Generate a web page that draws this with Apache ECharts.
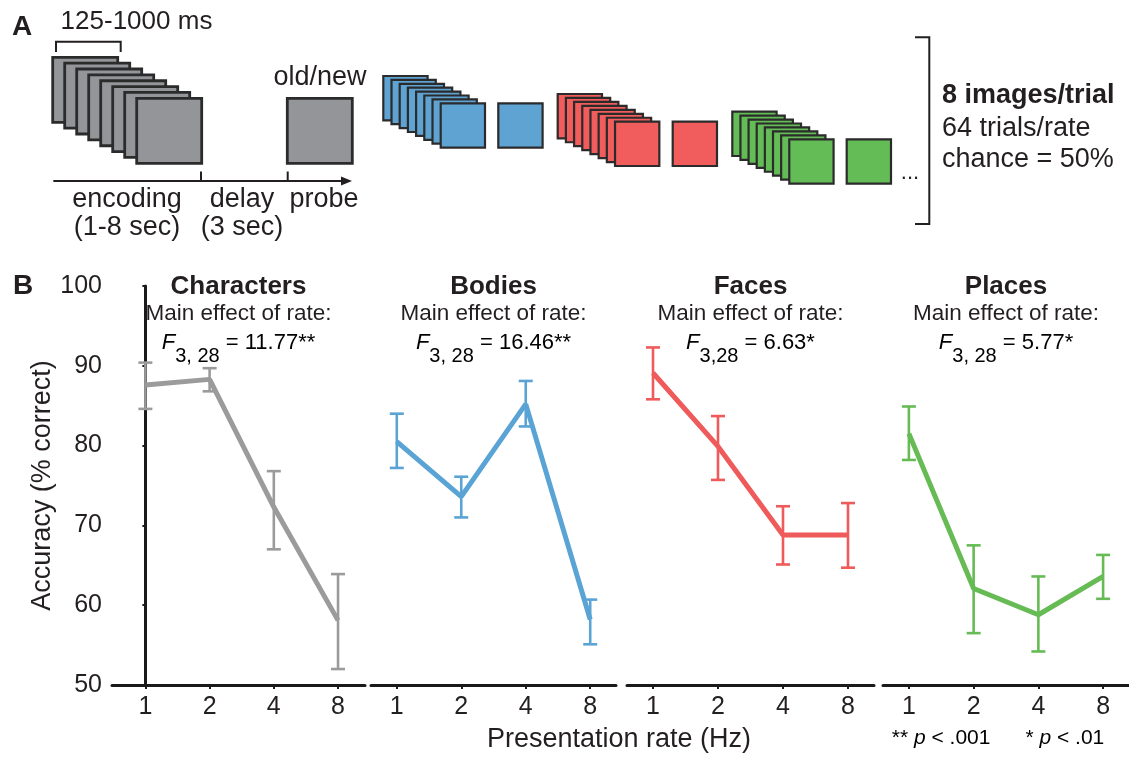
<!DOCTYPE html>
<html><head><meta charset="utf-8">
<script src="https://cdn.jsdelivr.net/npm/echarts@6/dist/echarts.min.js"></script>
<style>html,body{margin:0;padding:0;background:#fff}#c{width:1129px;height:759px}</style>
</head><body><div id="c"></div>
<script>
// ---------- data ----------
const rates = ['1', '2', '4', '8'];
const categories = ['Characters', 'Bodies', 'Faces', 'Places'];
const yTicks = [50, 60, 70, 80, 90, 100];
const fStats = ['11.77**', '16.46**', '6.63*', '5.77*'];
const fDf = ['3, 28', '3, 28', '3,28', '3, 28'];

const charactersMean = [87.6, 88.3, 72.3, 58.1];
const charactersLow  = [84.6, 86.8, 67.0, 52.0];
const charactersHigh = [90.4, 89.7, 76.8, 63.9];

const bodiesMean = [80.5, 73.6, 85.2, 58.2];
const bodiesLow  = [77.2, 71.0, 82.4, 55.1];
const bodiesHigh = [84.0, 76.1, 88.1, 60.7];

const facesMean = [89.1, 79.9, 68.8, 68.8];
const facesLow  = [85.8, 75.7, 65.1, 64.7];
const facesHigh = [92.3, 83.7, 72.4, 72.8];

const placesMean = [81.5, 62.1, 58.8, 63.6];
const placesLow  = [78.2, 56.5, 54.2, 60.8];
const placesHigh = [84.9, 67.5, 63.6, 66.3];

// ---------- layout / style ----------
const FONT = '"Liberation Sans", Arial, Helvetica, sans-serif';
const TXT = '#231f20';
const lineColors = ['#9b9b9b', '#5aa3d5', '#ef5a5a', '#66bb55'];
const squareFills = ['#939598', '#5fa3d3', '#f15d5c', '#64bc56'];
const means = [charactersMean, bodiesMean, facesMean, placesMean];
const lows = [charactersLow, bodiesLow, facesLow, placesLow];
const highs = [charactersHigh, bodiesHigh, facesHigh, placesHigh];

const grids = [
  {left: 112, width: 253, min: -0.52, max: 3.42},
  {left: 371, width: 245, min: -0.4, max: 3.4},
  {left: 627, width: 247, min: -0.4, max: 3.4},
  {left: 883, width: 246, min: -0.4, max: 3.4}
];
const GTOP = 286, GH = 399;

const chart = echarts.init(document.getElementById('c'), null, {renderer: 'canvas'});

function errRender(color) {
  return function (params, api) {
    const x = api.value(0), lo = api.value(1), hi = api.value(2);
    const t = api.coord([x, hi]), b = api.coord([x, lo]);
    const w = 7;
    const st = {stroke: color, lineWidth: 2.6};
    return {type: 'group', children: [
      {type: 'line', shape: {x1: t[0], y1: t[1], x2: b[0], y2: b[1]}, style: st},
      {type: 'line', shape: {x1: t[0] - w, y1: t[1], x2: t[0] + w, y2: t[1]}, style: st},
      {type: 'line', shape: {x1: b[0] - w, y1: b[1], x2: b[0] + w, y2: b[1]}, style: st}
    ]};
  };
}

const grid = grids.map(g => ({left: g.left, width: g.width, top: GTOP, height: GH}));
const xAxis = grids.map((g, i) => ({
  type: 'value', gridIndex: i, min: g.min, max: g.max,
  splitLine: {show: false},
  axisLine: {show: true, onZero: false, lineStyle: {color: '#1a1a1a', width: 3}},
  axisTick: {show: true, customValues: [0, 1, 2, 3], length: 4, lineStyle: {color: '#1a1a1a', width: 2}},
  axisLabel: {show: true, customValues: [0, 1, 2, 3], formatter: v => rates[Math.round(v)],
    fontSize: 25, color: TXT, fontFamily: FONT, margin: 10}
}));
const yAxis = grids.map((g, i) => ({
  type: 'value', gridIndex: i, min: yTicks[0], max: yTicks[yTicks.length - 1], interval: 10,
  show: i === 0,
  splitLine: {show: false},
  axisLine: {show: true, lineStyle: {color: '#1a1a1a', width: 3}},
  axisTick: {show: true, length: 3, lineStyle: {color: '#1a1a1a', width: 2}},
  axisLabel: {fontSize: 25, color: TXT, fontFamily: FONT, margin: 10},
  name: i === 0 ? 'Accuracy (% correct)' : '',
  nameLocation: 'middle', nameGap: 56,
  nameTextStyle: {fontSize: 27, color: TXT, fontFamily: FONT}
}));

const series = [];
categories.forEach((c, i) => {
  series.push({
    type: 'custom', name: c + ' error', xAxisIndex: i, yAxisIndex: i,
    renderItem: errRender(lineColors[i]),
    encode: {x: 0, y: [1, 2]},
    data: lows[i].map((l, k) => [k, l, highs[i][k]]),
    z: 2
  });
  series.push({
    type: 'line', name: c, xAxisIndex: i, yAxisIndex: i,
    data: means[i].map((v, k) => [k, v]),
    symbol: 'none', lineStyle: {color: lineColors[i], width: 5}, z: 3
  });
});

// ---------- graphics (titles, panel A schematic) ----------
const graphic = [];
function txt(x, y, text, size, opts) {
  graphic.push({type: 'text', x: x, y: y, silent: true, style: Object.assign({
    text: text, fill: TXT, font: (opts && opts.bold ? 'bold ' : '') + size + 'px ' + FONT,
    textAlign: 'center', textVerticalAlign: 'middle'}, opts && opts.style)});
}
// panel titles
grids.forEach((g, i) => {
  const cx = g.left + g.width / 2;
  txt(cx, 287, categories[i], 26, {bold: true});
  txt(cx, 314, 'Main effect of rate:', 22.5);
  graphic.push({type: 'text', x: cx, y: 332, silent: true, style: {
    text: '{i|F}{s|' + fDf[i] + '}{n| = ' + fStats[i] + '}',
    textAlign: 'center', textVerticalAlign: 'top',
    rich: {
      i: {fontSize: 22, fontStyle: 'italic', fontFamily: FONT, color: TXT, verticalAlign: 'top', lineHeight: 24},
      n: {fontSize: 22, fontFamily: FONT, color: TXT, verticalAlign: 'top', lineHeight: 24},
      s: {fontSize: 20, fontFamily: FONT, color: TXT, verticalAlign: 'bottom', lineHeight: 34}
    }}});
});
// panel labels
txt(22, 27, 'A', 28, {bold: true});
txt(23, 286, 'B', 28, {bold: true});
// x axis title and footnote
txt(619, 740, 'Presentation rate (Hz)', 27);
graphic.push({type: 'text', x: 998, y: 738, silent: true, style: {
  text: '{n|** }{i|p}{n| < .001      * }{i|p}{n| < .01}', textAlign: 'center', textVerticalAlign: 'middle',
  rich: {n: {fontSize: 21, fontFamily: FONT, color: TXT}, i: {fontSize: 21, fontStyle: 'italic', fontFamily: FONT, color: TXT}}
}});

// schematic squares
function stack(x0, y0, dx, dy, size, fill, lw) {
  for (let k = 0; k < 8; k++) {
    graphic.push({type: 'rect', silent: true, shape: {x: x0 + dx * k, y: y0 + dy * k, width: size, height: size},
      style: {fill: fill, stroke: '#2b2b2b', lineWidth: lw}});
  }
}
function square(x, y, size, fill, lw) {
  graphic.push({type: 'rect', silent: true, shape: {x: x, y: y, width: size, height: size},
    style: {fill: fill, stroke: '#2b2b2b', lineWidth: lw}});
}
stack(52.7, 57.3, 12, 5.86, 65, squareFills[0], 2.8);
square(287.3, 98.3, 65, squareFills[0], 2.8);
stack(383.3, 76, 8.2, 3.9, 44.3, squareFills[1], 2.2);
square(498.3, 103.3, 44.3, squareFills[1], 2.2);
stack(557.7, 94, 8.19, 3.96, 44.3, squareFills[2], 2.2);
square(672.7, 121.7, 44.3, squareFills[2], 2.2);
stack(732.3, 111.7, 8.14, 3.94, 44.3, squareFills[3], 2.2);
square(846.7, 139.3, 44.3, squareFills[3], 2.2);

const ln = {stroke: '#231f20', lineWidth: 2};
// bracket over encoding frame
graphic.push({type: 'polyline', silent: true, shape: {points: [[56, 52], [56, 41.7], [120.7, 41.7], [120.7, 52]]}, style: Object.assign({fill: null}, ln)});
// timeline
graphic.push({type: 'line', silent: true, shape: {x1: 53.3, y1: 181, x2: 346, y2: 181}, style: ln});
graphic.push({type: 'polygon', silent: true, shape: {points: [[352, 181], [341, 176.5], [341, 185.5]]}, style: {fill: '#231f20'}});
graphic.push({type: 'line', silent: true, shape: {x1: 201, y1: 171.5, x2: 201, y2: 181}, style: ln});
graphic.push({type: 'line', silent: true, shape: {x1: 287.7, y1: 171.5, x2: 287.7, y2: 181}, style: ln});
// right bracket
graphic.push({type: 'polyline', silent: true, shape: {points: [[915, 37.3], [929.3, 37.3], [929.3, 224], [915, 224]]}, style: Object.assign({fill: null}, ln)});

txt(136.5, 22, '125-1000 ms', 26);
txt(320, 78, 'old/new', 27);
txt(127, 200, 'encoding', 27);
txt(127, 228, '(1-8 sec)', 27);
txt(242, 200, 'delay', 27);
txt(242, 228, '(3 sec)', 27);
txt(324, 200, 'probe', 27);
txt(910, 173, '...', 22);
txt(942, 96, '8 images/trial', 27, {bold: true, style: {textAlign: 'left'}});
txt(942, 129, '64 trials/rate', 27, {style: {textAlign: 'left'}});
txt(942, 160, 'chance = 50%', 27, {style: {textAlign: 'left'}});

chart.setOption({
  animation: false,
  backgroundColor: '#ffffff',
  textStyle: {fontFamily: FONT},
  grid: grid, xAxis: xAxis, yAxis: yAxis, series: series, graphic: graphic
});
</script>
</body></html>
